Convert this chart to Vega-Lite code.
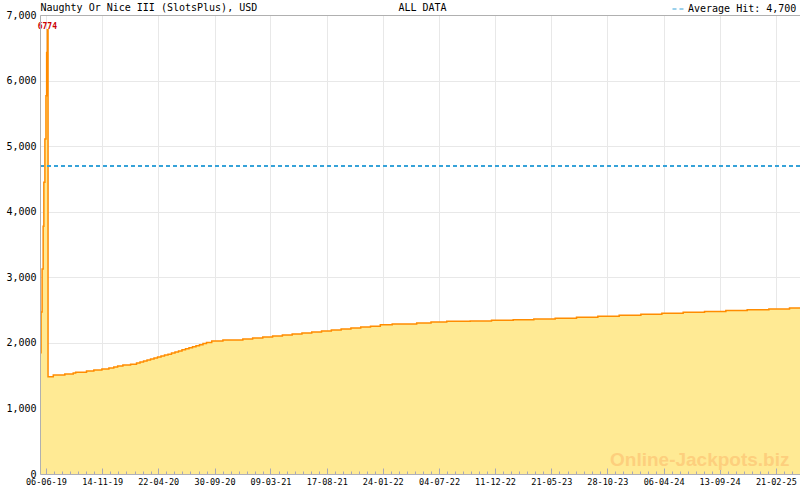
{
  "$schema": "https://vega.github.io/schema/vega-lite/v6.json",
  "width": 760,
  "height": 459,
  "autosize": {"type": "none"},
  "padding": {"left": 40, "top": 15, "right": 0, "bottom": 16},
  "background": "white",
  "config": {
    "view": {"stroke": null},
    "axis": {"labelFont": "DejaVu Sans Mono", "titleFont": "DejaVu Sans Mono"}
  },
  "data": {
    "values": [
      {"date": "2019-05-20", "value": 1850},
      {"date": "2019-05-23", "value": 2470},
      {"date": "2019-05-26", "value": 3125},
      {"date": "2019-05-29", "value": 3780},
      {"date": "2019-05-31", "value": 4450},
      {"date": "2019-06-03", "value": 5110},
      {"date": "2019-06-06", "value": 5770},
      {"date": "2019-06-08", "value": 6430},
      {"date": "2019-06-10", "value": 6774},
      {"date": "2019-06-12", "value": 1484},
      {"date": "2019-06-27", "value": 1510},
      {"date": "2019-07-30", "value": 1525},
      {"date": "2019-08-23", "value": 1540},
      {"date": "2019-08-30", "value": 1550},
      {"date": "2019-09-30", "value": 1570},
      {"date": "2019-10-21", "value": 1586},
      {"date": "2019-11-13", "value": 1600},
      {"date": "2019-12-03", "value": 1617},
      {"date": "2019-12-17", "value": 1632},
      {"date": "2019-12-28", "value": 1647},
      {"date": "2020-01-12", "value": 1662},
      {"date": "2020-02-03", "value": 1675},
      {"date": "2020-02-20", "value": 1693},
      {"date": "2020-03-01", "value": 1708},
      {"date": "2020-03-11", "value": 1723},
      {"date": "2020-03-21", "value": 1738},
      {"date": "2020-03-31", "value": 1753},
      {"date": "2020-04-10", "value": 1768},
      {"date": "2020-04-20", "value": 1783},
      {"date": "2020-04-30", "value": 1798},
      {"date": "2020-05-10", "value": 1813},
      {"date": "2020-05-20", "value": 1828},
      {"date": "2020-05-30", "value": 1845},
      {"date": "2020-06-09", "value": 1861},
      {"date": "2020-06-19", "value": 1877},
      {"date": "2020-06-29", "value": 1893},
      {"date": "2020-07-09", "value": 1909},
      {"date": "2020-07-19", "value": 1925},
      {"date": "2020-07-29", "value": 1941},
      {"date": "2020-08-08", "value": 1957},
      {"date": "2020-08-18", "value": 1973},
      {"date": "2020-08-28", "value": 1989},
      {"date": "2020-09-07", "value": 2005},
      {"date": "2020-09-22", "value": 2028},
      {"date": "2020-10-24", "value": 2044},
      {"date": "2020-12-20", "value": 2059},
      {"date": "2021-01-17", "value": 2074},
      {"date": "2021-02-15", "value": 2090},
      {"date": "2021-03-15", "value": 2105},
      {"date": "2021-04-12", "value": 2120},
      {"date": "2021-05-10", "value": 2135},
      {"date": "2021-06-07", "value": 2150},
      {"date": "2021-07-05", "value": 2165},
      {"date": "2021-08-02", "value": 2180},
      {"date": "2021-08-30", "value": 2195},
      {"date": "2021-09-27", "value": 2210},
      {"date": "2021-10-25", "value": 2225},
      {"date": "2021-11-22", "value": 2240},
      {"date": "2021-12-20", "value": 2255},
      {"date": "2022-01-17", "value": 2277},
      {"date": "2022-02-20", "value": 2288},
      {"date": "2022-05-01", "value": 2303},
      {"date": "2022-06-11", "value": 2318},
      {"date": "2022-07-26", "value": 2329},
      {"date": "2022-10-01", "value": 2334},
      {"date": "2022-12-01", "value": 2345},
      {"date": "2023-02-01", "value": 2352},
      {"date": "2023-04-01", "value": 2362},
      {"date": "2023-06-01", "value": 2375},
      {"date": "2023-08-01", "value": 2390},
      {"date": "2023-10-01", "value": 2405},
      {"date": "2023-12-01", "value": 2420},
      {"date": "2024-02-01", "value": 2438},
      {"date": "2024-04-01", "value": 2452},
      {"date": "2024-06-01", "value": 2465},
      {"date": "2024-08-01", "value": 2478},
      {"date": "2024-10-01", "value": 2492},
      {"date": "2024-12-01", "value": 2505},
      {"date": "2025-02-01", "value": 2518},
      {"date": "2025-04-01", "value": 2530},
      {"date": "2025-05-01", "value": 2532}
    ]
  },
  "resolve": {"axis": {"x": "independent", "y": "independent"}},
  "layer": [
    {
      "mark": {"type": "area", "interpolate": "step-after", "color": "#ffea94", "opacity": 1, "fillOpacity": 1, "line": {"color": "#ff8c00", "strokeWidth": 1.5, "opacity": 1}},
      "encoding": {
        "x": {
          "field": "date", "type": "temporal",
          "scale": {"type": "utc", "nice": false, "domain": [{"year": 2019, "month": 5, "date": 20, "utc": true}, {"year": 2025, "month": 5, "date": 1, "utc": true}]},
          "axis": {
            "orient": "bottom",
            "values": [
              {"year": 2019, "month": 6, "date": 6, "utc": true},
              {"year": 2019, "month": 6, "date": 29, "hours": 6, "utc": true},
              {"year": 2019, "month": 6, "date": 52, "hours": 6, "utc": true},
              {"year": 2019, "month": 6, "date": 75, "hours": 6, "utc": true},
              {"year": 2019, "month": 6, "date": 98, "hours": 6, "utc": true},
              {"year": 2019, "month": 6, "date": 121, "hours": 6, "utc": true},
              {"year": 2019, "month": 6, "date": 144, "hours": 6, "utc": true},
              {"year": 2019, "month": 11, "date": 14, "utc": true},
              {"year": 2019, "month": 11, "date": 37, "hours": 6, "utc": true},
              {"year": 2019, "month": 11, "date": 60, "hours": 6, "utc": true},
              {"year": 2019, "month": 11, "date": 83, "hours": 6, "utc": true},
              {"year": 2019, "month": 11, "date": 106, "hours": 6, "utc": true},
              {"year": 2019, "month": 11, "date": 129, "hours": 6, "utc": true},
              {"year": 2019, "month": 11, "date": 152, "hours": 6, "utc": true},
              {"year": 2020, "month": 4, "date": 22, "utc": true},
              {"year": 2020, "month": 4, "date": 45, "hours": 6, "utc": true},
              {"year": 2020, "month": 4, "date": 68, "hours": 6, "utc": true},
              {"year": 2020, "month": 4, "date": 91, "hours": 6, "utc": true},
              {"year": 2020, "month": 4, "date": 114, "hours": 6, "utc": true},
              {"year": 2020, "month": 4, "date": 137, "hours": 6, "utc": true},
              {"year": 2020, "month": 4, "date": 160, "hours": 6, "utc": true},
              {"year": 2020, "month": 9, "date": 30, "utc": true},
              {"year": 2020, "month": 9, "date": 53, "hours": 6, "utc": true},
              {"year": 2020, "month": 9, "date": 76, "hours": 6, "utc": true},
              {"year": 2020, "month": 9, "date": 99, "hours": 6, "utc": true},
              {"year": 2020, "month": 9, "date": 122, "hours": 6, "utc": true},
              {"year": 2020, "month": 9, "date": 145, "hours": 6, "utc": true},
              {"year": 2020, "month": 9, "date": 168, "hours": 6, "utc": true},
              {"year": 2021, "month": 3, "date": 9, "utc": true},
              {"year": 2021, "month": 3, "date": 32, "hours": 6, "utc": true},
              {"year": 2021, "month": 3, "date": 55, "hours": 6, "utc": true},
              {"year": 2021, "month": 3, "date": 78, "hours": 6, "utc": true},
              {"year": 2021, "month": 3, "date": 101, "hours": 6, "utc": true},
              {"year": 2021, "month": 3, "date": 124, "hours": 6, "utc": true},
              {"year": 2021, "month": 3, "date": 147, "hours": 6, "utc": true},
              {"year": 2021, "month": 8, "date": 17, "utc": true},
              {"year": 2021, "month": 8, "date": 40, "hours": 6, "utc": true},
              {"year": 2021, "month": 8, "date": 63, "hours": 6, "utc": true},
              {"year": 2021, "month": 8, "date": 86, "hours": 6, "utc": true},
              {"year": 2021, "month": 8, "date": 109, "hours": 6, "utc": true},
              {"year": 2021, "month": 8, "date": 132, "hours": 6, "utc": true},
              {"year": 2021, "month": 8, "date": 155, "hours": 6, "utc": true},
              {"year": 2022, "month": 1, "date": 24, "utc": true},
              {"year": 2022, "month": 1, "date": 47, "hours": 6, "utc": true},
              {"year": 2022, "month": 1, "date": 70, "hours": 6, "utc": true},
              {"year": 2022, "month": 1, "date": 93, "hours": 6, "utc": true},
              {"year": 2022, "month": 1, "date": 116, "hours": 6, "utc": true},
              {"year": 2022, "month": 1, "date": 139, "hours": 6, "utc": true},
              {"year": 2022, "month": 1, "date": 162, "hours": 6, "utc": true},
              {"year": 2022, "month": 7, "date": 4, "utc": true},
              {"year": 2022, "month": 7, "date": 27, "hours": 6, "utc": true},
              {"year": 2022, "month": 7, "date": 50, "hours": 6, "utc": true},
              {"year": 2022, "month": 7, "date": 73, "hours": 6, "utc": true},
              {"year": 2022, "month": 7, "date": 96, "hours": 6, "utc": true},
              {"year": 2022, "month": 7, "date": 119, "hours": 6, "utc": true},
              {"year": 2022, "month": 7, "date": 142, "hours": 6, "utc": true},
              {"year": 2022, "month": 12, "date": 11, "utc": true},
              {"year": 2022, "month": 12, "date": 34, "hours": 6, "utc": true},
              {"year": 2022, "month": 12, "date": 57, "hours": 6, "utc": true},
              {"year": 2022, "month": 12, "date": 80, "hours": 6, "utc": true},
              {"year": 2022, "month": 12, "date": 103, "hours": 6, "utc": true},
              {"year": 2022, "month": 12, "date": 126, "hours": 6, "utc": true},
              {"year": 2022, "month": 12, "date": 149, "hours": 6, "utc": true},
              {"year": 2023, "month": 5, "date": 21, "utc": true},
              {"year": 2023, "month": 5, "date": 44, "hours": 6, "utc": true},
              {"year": 2023, "month": 5, "date": 67, "hours": 6, "utc": true},
              {"year": 2023, "month": 5, "date": 90, "hours": 6, "utc": true},
              {"year": 2023, "month": 5, "date": 113, "hours": 6, "utc": true},
              {"year": 2023, "month": 5, "date": 136, "hours": 6, "utc": true},
              {"year": 2023, "month": 5, "date": 159, "hours": 6, "utc": true},
              {"year": 2023, "month": 10, "date": 28, "utc": true},
              {"year": 2023, "month": 10, "date": 51, "hours": 6, "utc": true},
              {"year": 2023, "month": 10, "date": 74, "hours": 6, "utc": true},
              {"year": 2023, "month": 10, "date": 97, "hours": 6, "utc": true},
              {"year": 2023, "month": 10, "date": 120, "hours": 6, "utc": true},
              {"year": 2023, "month": 10, "date": 143, "hours": 6, "utc": true},
              {"year": 2023, "month": 10, "date": 166, "hours": 6, "utc": true},
              {"year": 2024, "month": 4, "date": 6, "utc": true},
              {"year": 2024, "month": 4, "date": 29, "hours": 6, "utc": true},
              {"year": 2024, "month": 4, "date": 52, "hours": 6, "utc": true},
              {"year": 2024, "month": 4, "date": 75, "hours": 6, "utc": true},
              {"year": 2024, "month": 4, "date": 98, "hours": 6, "utc": true},
              {"year": 2024, "month": 4, "date": 121, "hours": 6, "utc": true},
              {"year": 2024, "month": 4, "date": 144, "hours": 6, "utc": true},
              {"year": 2024, "month": 9, "date": 13, "utc": true},
              {"year": 2024, "month": 9, "date": 36, "hours": 6, "utc": true},
              {"year": 2024, "month": 9, "date": 59, "hours": 6, "utc": true},
              {"year": 2024, "month": 9, "date": 82, "hours": 6, "utc": true},
              {"year": 2024, "month": 9, "date": 105, "hours": 6, "utc": true},
              {"year": 2024, "month": 9, "date": 128, "hours": 6, "utc": true},
              {"year": 2024, "month": 9, "date": 151, "hours": 6, "utc": true},
              {"year": 2025, "month": 2, "date": 21, "utc": true},
              {"year": 2025, "month": 2, "date": 44, "hours": 6, "utc": true},
              {"year": 2025, "month": 2, "date": 67, "hours": 6, "utc": true},
              {"year": 2025, "month": 2, "date": 89, "hours": 6, "utc": true}
            ],
            "labelExpr": "utchours(datum.value) == 0 ? utcFormat(datum.value, '%d-%m-%y') : ''",
            "labelFontSize": 8.5,
            "labelColor": "#000000",
            "labelPadding": 9,
            "labelFlush": false,
            "labelOverlap": false,
            "grid": false,
            "domainColor": "#b0b0b8",
            "tickColor": "#a8a8b8",
            "tickSize": {"condition": {"test": "utchours(datum.value) == 0", "value": -6}, "value": -3},
            "title": "Online-Jackpots.biz",
            "titleX": 749,
            "titleY": -9,
            "titleAlign": "right",
            "titleBaseline": "alphabetic",
            "titleFont": "Liberation Sans",
            "titleFontWeight": "bold",
            "titleFontSize": 19,
            "titleColor": "#fdcf7d",
            "zindex": 1
          }
        },
        "y": {
          "field": "value", "type": "quantitative",
          "scale": {"domain": [0, 7000], "nice": false},
          "axis": {
            "orient": "left",
            "values": [0, 1000, 2000, 3000, 4000, 5000, 6000, 7000],
            "format": ",d",
            "grid": false,
            "ticks": false,
            "labelFontSize": 10,
            "labelColor": "#000000",
            "labelPadding": 4,
            "domainColor": "#b0b0b0",
            "title": "Naughty Or Nice III (SlotsPlus), USD",
            "titleX": 0,
            "titleY": -5,
            "titleAngle": 0,
            "titleAlign": "left",
            "titleBaseline": "alphabetic",
            "titleFontSize": 10,
            "titleFontWeight": "normal",
            "titleColor": "#000000",
            "zindex": 1
          }
        }
      }
    },
    {
      "mark": {"type": "rule", "strokeDash": [4, 3], "strokeWidth": 1},
      "encoding": {
        "y": {"datum": 4700, "type": "quantitative", "axis": null},
        "color": {
          "datum": "Average Hit: 4,700", "type": "nominal",
          "scale": {"range": ["#36a2d8"]},
          "legend": {
            "orient": "none", "legendX": 632, "legendY": -13, "title": null,
            "symbolType": "stroke", "symbolSize": 169, "symbolStrokeWidth": 1, "symbolDash": [4, 3],
            "labelFont": "DejaVu Sans Mono", "labelFontSize": 10, "labelColor": "#000000", "labelOffset": 2,
            "padding": 0, "rowPadding": 0
          }
        }
      }
    },
    {
      "transform": [
        {"joinaggregate": [{"op": "max", "field": "value", "as": "mx"}]},
        {"filter": "datum.value == datum.mx"}
      ],
      "mark": {"type": "text", "color": "#cc0000", "font": "DejaVu Sans Mono", "fontWeight": "bold", "fontSize": 8, "baseline": "alphabetic", "dy": -1},
      "encoding": {
        "x": {
          "field": "date", "type": "temporal",
          "axis": {
            "orient": "top",
            "values": [
              {"year": 2019, "month": 6, "date": 6, "utc": true},
              {"year": 2019, "month": 11, "date": 14, "utc": true},
              {"year": 2020, "month": 4, "date": 22, "utc": true},
              {"year": 2020, "month": 9, "date": 30, "utc": true},
              {"year": 2021, "month": 3, "date": 9, "utc": true},
              {"year": 2021, "month": 8, "date": 17, "utc": true},
              {"year": 2022, "month": 1, "date": 24, "utc": true},
              {"year": 2022, "month": 7, "date": 4, "utc": true},
              {"year": 2022, "month": 12, "date": 11, "utc": true},
              {"year": 2023, "month": 5, "date": 21, "utc": true},
              {"year": 2023, "month": 10, "date": 28, "utc": true},
              {"year": 2024, "month": 4, "date": 6, "utc": true},
              {"year": 2024, "month": 9, "date": 13, "utc": true},
              {"year": 2025, "month": 2, "date": 21, "utc": true}
            ],
            "grid": true, "gridColor": "#e8e8e8", "ticks": false, "labels": false,
            "domainColor": "#b0b0b0",
            "title": "ALL DATA", "titleX": 382, "titleY": -5, "titleAlign": "center", "titleBaseline": "alphabetic",
            "titleFontSize": 10, "titleFontWeight": "normal", "titleColor": "#000000",
            "zindex": 0
          }
        },
        "y": {
          "field": "value", "type": "quantitative",
          "axis": {
            "orient": "right",
            "values": [1000, 2000, 3000, 4000, 5000, 6000, 7000],
            "grid": true, "gridColor": "#e8e8e8", "ticks": false, "labels": false,
            "domainColor": "#b0b0b0", "title": null, "zindex": 0
          }
        },
        "text": {"field": "value", "type": "quantitative", "format": "d"}
      }
    }
  ]
}
